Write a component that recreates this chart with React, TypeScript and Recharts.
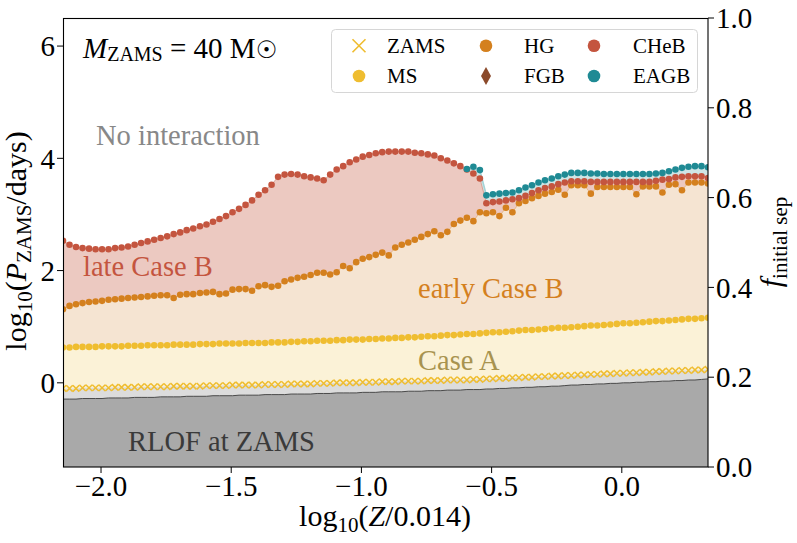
import React from "react";
import { ComposedChart, Area, Line, XAxis, YAxis } from "recharts";

// log10(Z/0.014) grid, one model per point
const logZ = [
  -2.146, -2.121, -2.096, -2.071, -2.046, -2.021, -1.996, -1.971, -1.946, -1.921,
  -1.896, -1.871, -1.846, -1.821, -1.796, -1.771, -1.746, -1.721, -1.696, -1.671,
  -1.646, -1.620, -1.595, -1.570, -1.545, -1.520, -1.495, -1.470, -1.445, -1.420,
  -1.395, -1.370, -1.345, -1.320, -1.295, -1.270, -1.245, -1.220, -1.195, -1.170,
  -1.145, -1.120, -1.095, -1.070, -1.045, -1.020, -0.995, -0.970, -0.945, -0.920,
  -0.895, -0.870, -0.845, -0.820, -0.795, -0.770, -0.745, -0.720, -0.695, -0.670,
  -0.645, -0.620, -0.595, -0.570, -0.545, -0.520, -0.495, -0.470, -0.445, -0.420,
  -0.395, -0.370, -0.345, -0.320, -0.295, -0.269, -0.244, -0.219, -0.194, -0.169,
  -0.144, -0.119, -0.094, -0.069, -0.044, -0.019, 0.006, 0.031, 0.056, 0.081,
  0.106, 0.131, 0.156, 0.181, 0.206, 0.231, 0.256, 0.281, 0.306, 0.331,
];

// log10(P/days) boundaries
const rlofEdge = [
  -0.29, -0.29, -0.29, -0.28, -0.28, -0.28, -0.28, -0.27, -0.27, -0.27,
  -0.27, -0.26, -0.26, -0.26, -0.26, -0.25, -0.25, -0.25, -0.25, -0.24,
  -0.24, -0.24, -0.24, -0.23, -0.23, -0.23, -0.23, -0.22, -0.22, -0.22,
  -0.22, -0.21, -0.21, -0.21, -0.21, -0.2, -0.2, -0.2, -0.2, -0.19,
  -0.19, -0.19, -0.18, -0.18, -0.18, -0.18, -0.17, -0.17, -0.17, -0.16,
  -0.16, -0.16, -0.16, -0.15, -0.15, -0.15, -0.14, -0.14, -0.14, -0.13,
  -0.13, -0.13, -0.12, -0.12, -0.12, -0.11, -0.11, -0.1, -0.1, -0.09,
  -0.09, -0.08, -0.08, -0.07, -0.07, -0.06, -0.06, -0.05, -0.04, -0.04,
  -0.03, -0.03, -0.02, -0.02, -0.01, -0.01, 0.0, 0.0, 0.01, 0.01,
  0.02, 0.02, 0.03, 0.03, 0.04, 0.04, 0.05, 0.05, 0.06, 0.07,
];

const zams = [
  -0.1, -0.1, -0.1, -0.09, -0.09, -0.09, -0.09, -0.09, -0.08, -0.08,
  -0.08, -0.08, -0.07, -0.07, -0.07, -0.07, -0.07, -0.06, -0.06, -0.06,
  -0.06, -0.06, -0.05, -0.05, -0.05, -0.05, -0.04, -0.04, -0.04, -0.04,
  -0.04, -0.03, -0.03, -0.03, -0.03, -0.02, -0.02, -0.02, -0.02, -0.01,
  -0.01, -0.01, 0.0, 0.0, 0.0, 0.0, 0.01, 0.01, 0.01, 0.02,
  0.02, 0.02, 0.03, 0.03, 0.03, 0.03, 0.04, 0.04, 0.04, 0.05,
  0.05, 0.05, 0.05, 0.06, 0.06, 0.07, 0.07, 0.08, 0.08, 0.09,
  0.09, 0.1, 0.1, 0.11, 0.11, 0.12, 0.12, 0.13, 0.13, 0.14,
  0.14, 0.15, 0.15, 0.16, 0.16, 0.17, 0.17, 0.18, 0.18, 0.19,
  0.19, 0.2, 0.2, 0.21, 0.21, 0.22, 0.22, 0.23, 0.23, 0.24,
];

const ms = [
  0.63, 0.63, 0.64, 0.64, 0.64, 0.64, 0.65, 0.65, 0.65, 0.65,
  0.66, 0.66, 0.66, 0.67, 0.67, 0.67, 0.67, 0.68, 0.68, 0.68,
  0.68, 0.69, 0.69, 0.69, 0.7, 0.7, 0.7, 0.7, 0.71, 0.71,
  0.71, 0.71, 0.72, 0.72, 0.72, 0.73, 0.73, 0.74, 0.74, 0.75,
  0.75, 0.75, 0.76, 0.76, 0.77, 0.77, 0.77, 0.78, 0.78, 0.79,
  0.79, 0.8, 0.8, 0.81, 0.81, 0.82, 0.83, 0.83, 0.84, 0.85,
  0.85, 0.86, 0.87, 0.87, 0.88, 0.89, 0.9, 0.9, 0.91, 0.92,
  0.93, 0.94, 0.94, 0.95, 0.96, 0.97, 0.98, 0.98, 0.99, 1.0,
  1.01, 1.02, 1.02, 1.03, 1.04, 1.05, 1.06, 1.06, 1.07, 1.08,
  1.09, 1.1, 1.1, 1.11, 1.12, 1.13, 1.14, 1.14, 1.15, 1.16,
];

const hg = [
  1.31, 1.37, 1.4, 1.42, 1.44, 1.45, 1.46, 1.48, 1.49, 1.5,
  1.51, 1.52, 1.53, 1.54, 1.55, 1.56, 1.56, 1.51, 1.57, 1.58,
  1.58, 1.6, 1.61, 1.62, 1.58, 1.59, 1.66, 1.67, 1.67, 1.64,
  1.72, 1.74, 1.71, 1.73, 1.81, 1.84, 1.87, 1.89, 1.92, 1.96,
  1.96, 1.93, 1.97, 2.08, 2.04, 2.15, 2.21, 2.24, 2.28, 2.32,
  2.27, 2.41, 2.46, 2.5, 2.55, 2.6, 2.65, 2.7, 2.63, 2.69,
  2.83, 2.89, 2.94, 2.88, 3.04, 3.02, 3.04, 2.97, 3.12, 3.04,
  3.2, 3.24, 3.29, 3.33, 3.37, 3.4, 3.44, 3.35, 3.52, 3.52,
  3.52, 3.37, 3.49, 3.49, 3.49, 3.49, 3.49, 3.49, 3.36, 3.5,
  3.5, 3.5, 3.39, 3.53, 3.54, 3.43, 3.57, 3.57, 3.57, 3.55,
];

const cheb = [
  2.53, 2.46, 2.42, 2.4, 2.39, 2.38, 2.38, 2.38, 2.4, 2.41,
  2.43, 2.46, 2.49, 2.52, 2.55, 2.58, 2.61, 2.65, 2.68, 2.72,
  2.75, 2.79, 2.82, 2.87, 2.92, 2.97, 3.04, 3.1, 3.17, 3.25,
  3.35, 3.43, 3.53, 3.67, 3.71, 3.72, 3.71, 3.68, 3.66, 3.64,
  3.61, 3.71, 3.8, 3.86, 3.93, 3.98, 4.03, 4.06, 4.09, 4.11,
  4.12, 4.12, 4.12, 4.12, 4.1, 4.09, 4.07, 4.05, 4.0, 3.96,
  3.91, 3.86, 3.8, 3.73, 3.64, 3.2, 3.22, 3.23, 3.25, 3.27,
  3.29, 3.33, 3.38, 3.43, 3.47, 3.5, 3.54, 3.57, 3.59, 3.59,
  3.59, 3.58, 3.58, 3.58, 3.58, 3.58, 3.58, 3.58, 3.58, 3.58,
  3.58, 3.6, 3.62, 3.63, 3.66, 3.67, 3.68, 3.68, 3.68, 3.65,
];

// EAGB only exists from index 62 on
const eagbFrom = 62;
const eagb = [
  3.81, 3.85, 3.79, 3.34, 3.36, 3.37, 3.38, 3.39, 3.43, 3.48,
  3.52, 3.57, 3.61, 3.64, 3.68, 3.71, 3.74, 3.74, 3.74, 3.73,
  3.73, 3.72, 3.72, 3.72, 3.72, 3.72, 3.72, 3.72, 3.72, 3.73,
  3.74, 3.77, 3.8, 3.83, 3.85, 3.86, 3.86, 3.84,
];

const xTicks = [-2, -1.5, -1, -0.5, 0];
const yTicks = [0, 2, 4, 6];
const fTicks = [0, 0.2, 0.4, 0.6, 0.8, 1.0];

const data = logZ.map((x, i) => ({
  x,
  rlof: rlofEdge[i],
  zams: zams[i],
  ms: ms[i],
  hg: hg[i],
  cheb: cheb[i],
  eagb: i >= eagbFrom ? eagb[i - eagbFrom] : null,
}));

const SERIF = "'Liberation Serif', 'DejaVu Serif', serif";
const C = {
  zams: "#efbd30",
  ms: "#efbd30",
  hg: "#d4801e",
  fgb: "#8b4a2b",
  cheb: "#c4553f",
  eagb: "#1f8a94",
};

const minus = (v: number, d: number) =>
  (v < 0 ? "\u2212" : "") + Math.abs(v).toFixed(d);

const circleDot = (color: string, name: string) => (p: any) => {
  const { cx, cy, index } = p;
  if (cx == null || cy == null || isNaN(cx) || isNaN(cy) || p.value == null)
    return <g key={`${name}-${index}`} />;
  return <circle key={`${name}-${index}`} cx={cx} cy={cy} r={3.3} fill={color} />;
};

const crossDot = (p: any) => {
  const { cx, cy, index } = p;
  if (cx == null || cy == null || isNaN(cx) || isNaN(cy))
    return <g key={`z-${index}`} />;
  const s = 3.2;
  return (
    <path
      key={`z-${index}`}
      d={`M${cx - s},${cy - s}L${cx + s},${cy + s}M${cx - s},${cy + s}L${cx + s},${cy - s}`}
      stroke={C.zams}
      strokeWidth={1.5}
      fill="none"
    />
  );
};

function Overlay() {
  const lg = { fontFamily: SERIF, fontSize: 21, fill: "#000" };
  const ann = { fontFamily: SERIF, fontSize: 28.5 };
  return (
    <svg
      width={797}
      height={543}
      style={{ position: "absolute", left: 0, top: 0, pointerEvents: "none" }}
    >
      <rect x={63.5} y={18.5} width={644.5} height={448.5} fill="none" stroke="#000" strokeWidth={1.1} />

      <text x={83} y={58} style={{ fontFamily: SERIF, fontSize: 29 }}>
        <tspan fontStyle="italic">M</tspan>
        <tspan fontSize={20} dy={3}>ZAMS</tspan>
        <tspan dy={-3}> = 40 M</tspan>
        <tspan fontFamily="'DejaVu Sans', sans-serif" fontSize={24}>{"\u2609"}</tspan>
      </text>

      <text x={96} y={145} fill="#888888" style={ann}>No interaction</text>
      <text x={83} y={276} fill="#c4553f" style={ann}>late Case B</text>
      <text x={418} y={298} fill="#d4801e" style={ann}>early Case B</text>
      <text x={418} y={370} fill="#a8934f" style={ann}>Case A</text>
      <text x={128} y={451} fill="#3a3a3a" style={ann}>RLOF at ZAMS</text>

      <text x={385} y={526} textAnchor="middle" style={{ fontFamily: SERIF, fontSize: 30 }}>
        log<tspan fontSize={21} dy={6}>10</tspan>
        <tspan dy={-6}>(</tspan>
        <tspan fontStyle="italic">Z</tspan>/0.014)
      </text>

      <text
        x={0}
        y={0}
        textAnchor="middle"
        transform="translate(26,241) rotate(-90)"
        style={{ fontFamily: SERIF, fontSize: 30 }}
      >
        log<tspan fontSize={21} dy={6}>10</tspan>
        <tspan dy={-6}>(</tspan>
        <tspan fontStyle="italic">P</tspan>
        <tspan fontSize={21} dy={5}>ZAMS</tspan>
        <tspan dy={-5}>/days)</tspan>
      </text>

      <text
        x={0}
        y={0}
        textAnchor="middle"
        transform="translate(781,242) rotate(-90)"
        style={{ fontFamily: SERIF, fontSize: 30 }}
      >
        <tspan fontStyle="italic">f</tspan>
        <tspan fontSize={21} dy={6}>initial sep</tspan>
      </text>

      <rect x={331.5} y={29.5} width={366} height={63} rx={4} fill="#fff" fillOpacity={0.8} stroke="#d6d6d6" />
      <path d="M352.5,39.2L365.5,52.2M352.5,52.2L365.5,39.2" stroke={C.zams} strokeWidth={1.6} />
      <circle cx={359} cy={76} r={6.3} fill={C.ms} />
      <circle cx={486} cy={45.7} r={6.3} fill={C.hg} />
      <path d="M486,67L491,76L486,85L481,76Z" fill={C.fgb} />
      <circle cx={594} cy={45.7} r={6.3} fill={C.cheb} />
      <circle cx={594} cy={76} r={6.3} fill={C.eagb} />
      <text x={387} y={53} style={lg}>ZAMS</text>
      <text x={387} y={83} style={lg}>MS</text>
      <text x={524} y={53} style={lg}>HG</text>
      <text x={524} y={83} style={lg}>FGB</text>
      <text x={633} y={53} style={lg}>CHeB</text>
      <text x={633} y={83} style={lg}>EAGB</text>
    </svg>
  );
}

// the right axis is a relabelling of the same period range, 0..1
const toFrac = (d: any) => (d.zams + 1.5) / 8;

export default function App() {
  const tick = { fill: "#000", fontSize: 29, fontFamily: SERIF };
  return (
    <div style={{ position: "relative", width: 797, height: 543 }}>
      <style>{"body{margin:0}"}</style>
      <ComposedChart
        width={797}
        height={543}
        data={data}
        margin={{ top: 18, right: 0, bottom: 0, left: 0 }}
      >
        <XAxis
          type="number"
          dataKey="x"
          domain={[-2.146, 0.331]}
          ticks={xTicks}
          interval={0}
          allowDataOverflow
          tickFormatter={(v: number) => minus(v, 1)}
          height={76}
          tickSize={6}
          axisLine={false}
          tickLine={{ stroke: "#000" }}
          tick={tick}
        />
        <YAxis
          yAxisId="left"
          type="number"
          domain={[-1.5, 6.5]}
          ticks={yTicks}
          interval={0}
          allowDataOverflow
          width={63}
          tickSize={6}
          axisLine={false}
          tickLine={{ stroke: "#000" }}
          tick={tick}
        />
        <YAxis
          yAxisId="right"
          orientation="right"
          type="number"
          domain={[0, 1]}
          ticks={fTicks}
          interval={0}
          allowDataOverflow
          width={89}
          tickSize={6}
          tickFormatter={(v: number) => v.toFixed(1)}
          axisLine={false}
          tickLine={{ stroke: "#000" }}
          tick={tick}
        />

        <Area yAxisId="left" type="linear" dataKey="eagb" baseValue={-1.5} fill="#cfe5e5" fillOpacity={1} stroke="#a3d3d7" strokeWidth={1.5} isAnimationActive={false} />
        <Area yAxisId="left" type="linear" dataKey="cheb" baseValue={-1.5} fill="#ecc9c1" fillOpacity={1} stroke="#d9a398" strokeWidth={1} isAnimationActive={false} />
        <Area yAxisId="left" type="linear" dataKey="hg" baseValue={-1.5} fill="#f5e4d2" fillOpacity={1} stroke="#e6b88a" strokeWidth={1} isAnimationActive={false} />
        <Area yAxisId="left" type="linear" dataKey="ms" baseValue={-1.5} fill="#fbf2d7" fillOpacity={1} stroke="none" isAnimationActive={false} />
        <Area yAxisId="left" type="linear" dataKey="zams" baseValue={-1.5} fill="#dcdcdc" fillOpacity={1} stroke="none" isAnimationActive={false} />
        <Area yAxisId="left" type="linear" dataKey="rlof" baseValue={-1.5} fill="#a9a9a9" fillOpacity={1} stroke="#4a4a4a" strokeWidth={1} isAnimationActive={false} />

        <Line yAxisId="right" type="linear" dataKey={toFrac} stroke="none" dot={false} activeDot={false} isAnimationActive={false} />

        <Line yAxisId="left" type="linear" dataKey="zams" stroke="none" dot={crossDot} activeDot={false} isAnimationActive={false} />
        <Line yAxisId="left" type="linear" dataKey="ms" stroke="none" dot={circleDot(C.ms, "ms")} activeDot={false} isAnimationActive={false} />
        <Line yAxisId="left" type="linear" dataKey="hg" stroke="none" dot={circleDot(C.hg, "hg")} activeDot={false} isAnimationActive={false} />
        <Line yAxisId="left" type="linear" dataKey="cheb" stroke="none" dot={circleDot(C.cheb, "cheb")} activeDot={false} isAnimationActive={false} />
        <Line yAxisId="left" type="linear" dataKey="eagb" stroke="none" dot={circleDot(C.eagb, "eagb")} activeDot={false} isAnimationActive={false} />
      </ComposedChart>
      <Overlay />
    </div>
  );
}
